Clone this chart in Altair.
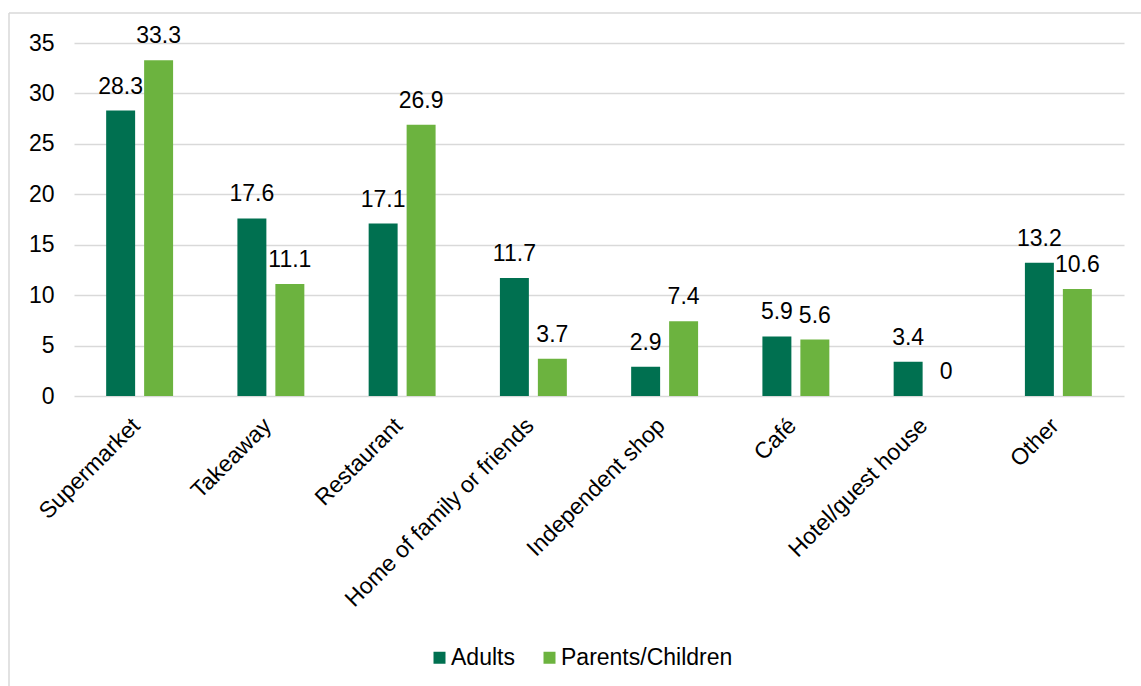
import altair as alt
import pandas as pd

categories = ["Supermarket", "Takeaway", "Restaurant", "Home of family or friends",
              "Independent shop", "Café", "Hotel/guest house", "Other"]
groups = ["Adults", "Parents/Children"]
adults = [28.3, 17.6, 17.1, 11.7, 2.9, 5.9, 3.4, 13.2]
parents = [33.3, 11.1, 26.9, 3.7, 7.4, 5.6, 0, 10.6]
colors = ["#007050", "#6CB33F"]

rows = []
for c, a, p in zip(categories, adults, parents):
    rows.append({"Category": c, "Group": groups[0], "Value": a})
    rows.append({"Category": c, "Group": groups[1], "Value": p})
df = pd.DataFrame(rows)

FONT = "Liberation Sans"
FS = 23

x_enc = alt.X("Category:N", sort=categories, title=None,
              scale=alt.Scale(paddingInner=0.49, paddingOuter=0.245),
              axis=alt.Axis(labelAngle=-45, labelFontSize=FS, labelFont=FONT,
                            labelColor="#000000", ticks=False, domain=False,
                            labelPadding=18, labelOffset=-11, labelLimit=400))
xo_enc = alt.XOffset("Group:N", sort=groups,
                     scale=alt.Scale(paddingInner=0.237, paddingOuter=0))
y_enc = alt.Y("Value:Q", title=None,
              scale=alt.Scale(domain=[0, 35], nice=False),
              axis=alt.Axis(values=[0, 5, 10, 15, 20, 25, 30, 35], labelFontSize=FS,
                            labelFont=FONT, labelColor="#000000", ticks=False,
                            domain=False, gridColor="#D9D9D9", gridWidth=1.5,
                            labelPadding=20))

base = alt.Chart(df).encode(x=x_enc, xOffset=xo_enc)

bars = base.mark_bar().encode(
    y=y_enc,
    color=alt.Color("Group:N", sort=groups,
                    scale=alt.Scale(domain=groups, range=colors),
                    legend=alt.Legend(title=None, orient="none", legendX=354, legendY=603,
                                      direction="horizontal", symbolType="square",
                                      symbolSize=144, symbolStrokeWidth=0,
                                      labelFontSize=FS, labelFont=FONT,
                                      labelColor="#000000", columnPadding=23,
                                      labelOffset=0, labelLimit=400)),
)

labels = base.mark_text(baseline="alphabetic", dy=-17, fontSize=FS, font=FONT,
                        color="#000000").encode(
    y="Value:Q",
    text=alt.Text("Value:Q", format=".1~f"),
)

border_data = alt.Data(values=[{}])
border_top = alt.Chart(border_data).mark_rule(color="#D9D9D9", strokeWidth=1.5).encode(
    x=alt.value(-65), x2=alt.value(1100), y=alt.value(-30))
border_left = alt.Chart(border_data).mark_rule(color="#D9D9D9", strokeWidth=1.5).encode(
    x=alt.value(-65), y=alt.value(-30), y2=alt.value(700))

chart = alt.layer(border_top, border_left, bars, labels).properties(
    width=1050, height=353,
    autosize=alt.AutoSizeParams(type="none"),
    padding={"left": 74, "top": 43, "right": 17, "bottom": 290},
    background="#FFFFFF",
).configure_view(stroke=None)

chart.save("out.html", embed_options={"renderer": "svg", "actions": False})
